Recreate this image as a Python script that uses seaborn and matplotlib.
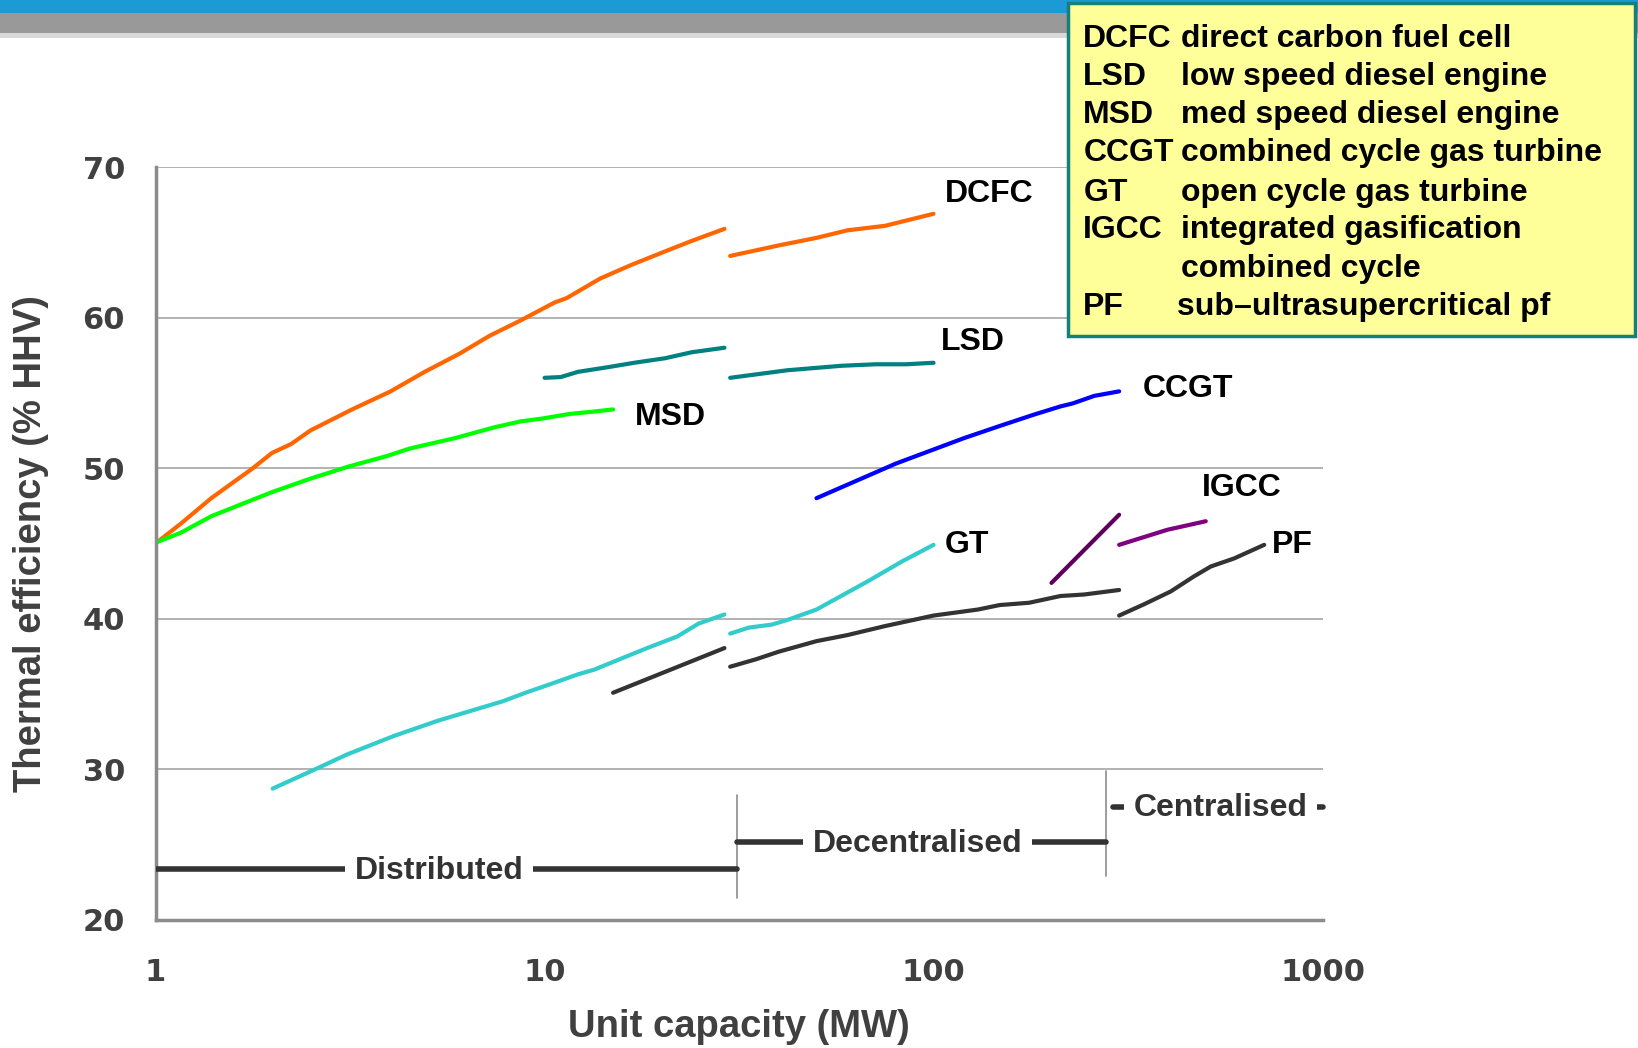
import pandas as pd
import matplotlib
matplotlib.use('Agg')
import matplotlib.pyplot as plt
import seaborn as sns
from matplotlib.patches import Rectangle
from matplotlib.ticker import NullLocator

sns.set_style('white')
plt.rcParams['font.family'] = ['Liberation Sans', 'DejaVu Sans']

# data: unit capacity (MW) vs thermal efficiency (% HHV)
dcfc_a_x = [1, 1.16, 1.39, 1.78, 1.99, 2.23, 2.5, 3.2, 4.02, 4.92, 6.04, 7.23, 8.66, 10.6, 11.4, 13.9, 16.7, 20.4, 23.9, 29]
dcfc_a_y = [45.0, 46.3, 48.0, 50.0, 51.0, 51.6, 52.5, 53.9, 55.1, 56.4, 57.6, 58.8, 59.8, 61.0, 61.3, 62.6, 63.5, 64.4, 65.1, 65.9]
dcfc_b_x = [30, 40, 50, 60, 75, 100]
dcfc_b_y = [64.1, 64.8, 65.3, 65.8, 66.1, 66.9]

msd_x = [1, 1.16, 1.39, 1.7, 1.99, 2.5, 3.13, 3.93, 4.5, 5.9, 7.4, 8.66, 9.9, 11.6, 13.3, 15]
msd_y = [45.05, 45.7, 46.8, 47.7, 48.4, 49.3, 50.1, 50.8, 51.3, 52.0, 52.7, 53.1, 53.3, 53.6, 53.75, 53.9]

lsd_a_x = [10, 11.0, 12.2, 14.5, 17.0, 20.4, 23.9, 29]
lsd_a_y = [56.0, 56.05, 56.4, 56.7, 57.0, 57.3, 57.7, 58.0]
lsd_b_x = [30, 42, 58, 71, 85, 100]
lsd_b_y = [56.0, 56.5, 56.8, 56.9, 56.9, 57.0]

ccgt_x = [50, 80, 120, 148, 181, 212, 228, 259, 300]
ccgt_y = [48.0, 50.3, 52.0, 52.8, 53.55, 54.1, 54.3, 54.8, 55.1]

gt_a_x = [2.0, 2.58, 3.1, 4.1, 5.3, 7.8, 9.0, 10.5, 12.2, 13.4, 15.6, 18.6, 21.9, 24.9, 29]
gt_a_y = [28.7, 30.0, 30.96, 32.2, 33.2, 34.5, 35.1, 35.7, 36.3, 36.6, 37.3, 38.1, 38.8, 39.67, 40.27]
gt_b_x = [30, 33.5, 38.4, 42, 50, 68, 83, 100]
gt_b_y = [39.0, 39.4, 39.6, 39.9, 40.6, 42.5, 43.8, 44.9]

igcc_a_x = [201, 300]
igcc_a_y = [42.37, 46.9]
igcc_b_x = [300, 399, 501]
igcc_b_y = [44.9, 45.9, 46.47]

pf_a_x = [15, 29]
pf_a_y = [35.07, 38.04]
pf_b_x = [30, 35, 40, 50, 60, 75, 100, 130, 148, 176, 212, 244, 300]
pf_b_y = [36.8, 37.3, 37.8, 38.5, 38.9, 39.5, 40.2, 40.6, 40.9, 41.05, 41.5, 41.6, 41.9]
pf_c_x = [300, 347, 407, 467, 516, 593, 708]
pf_c_y = [40.2, 40.94, 41.8, 42.8, 43.46, 44.0, 44.9]

segments = {
    'DCFC a': (dcfc_a_x, dcfc_a_y), 'DCFC b': (dcfc_b_x, dcfc_b_y),
    'MSD': (msd_x, msd_y),
    'LSD a': (lsd_a_x, lsd_a_y), 'LSD b': (lsd_b_x, lsd_b_y),
    'CCGT': (ccgt_x, ccgt_y),
    'GT a': (gt_a_x, gt_a_y), 'GT b': (gt_b_x, gt_b_y),
    'IGCC a': (igcc_a_x, igcc_a_y), 'IGCC b': (igcc_b_x, igcc_b_y),
    'PF a': (pf_a_x, pf_a_y), 'PF b': (pf_b_x, pf_b_y), 'PF c': (pf_c_x, pf_c_y),
}
seg_colors = {
    'DCFC a': '#ff6600', 'DCFC b': '#ff6600', 'MSD': '#00ff00',
    'LSD a': '#008080', 'LSD b': '#008080', 'CCGT': '#0000ff',
    'GT a': '#33cccc', 'GT b': '#33cccc', 'IGCC a': '#5c005c', 'IGCC b': '#800080',
    'PF a': '#333333', 'PF b': '#333333', 'PF c': '#333333',
}

# line labels: name, x (MW), y (%)
label_names = ['DCFC', 'LSD', 'MSD', 'CCGT', 'IGCC', 'GT', 'PF']
label_x = [107, 104.7, 17.1, 345, 491, 107, 743]
label_y = [68.2, 58.4, 53.4, 55.25, 48.65, 44.9, 44.9]

# legend box lines
legend_abbr = ['DCFC', 'LSD', 'MSD', 'CCGT', 'GT', 'IGCC', '', 'PF']
legend_desc = ['direct carbon fuel cell', 'low speed diesel engine', 'med speed diesel engine',
               'combined cycle gas turbine', 'open cycle gas turbine', 'integrated gasification',
               'combined cycle', 'sub\u2013ultrasupercritical pf']

x_ticks = [1, 10, 100, 1000]
y_ticks = [20, 30, 40, 50, 60, 70]

rows = []
for name, (xs, ys) in segments.items():
    for xv, yv in zip(xs, ys):
        rows.append({'segment': name, 'mw': xv, 'eff': yv})
df = pd.DataFrame(rows)

fig = plt.figure(figsize=(16.38, 10.48), dpi=100)
H = 1003.0

# slide header bands
fig.add_artist(Rectangle((0, 1 - 12 / H), 1, 12 / H, transform=fig.transFigure, color='#1b9ad6', lw=0))
fig.add_artist(Rectangle((0, 1 - 32 / H), 1, 20 / H, transform=fig.transFigure, color='#999999', lw=0))
fig.add_artist(Rectangle((0, 1 - 36 / H), 1, 4 / H, transform=fig.transFigure, color='#d9d9d9', lw=0))

ax = fig.add_axes([0.0950, 0.1226, 0.7124, 0.7179])
sns.lineplot(data=df, x='mw', y='eff', hue='segment', palette=seg_colors, estimator=None,
             sort=False, lw=3, legend=False, ax=ax, solid_capstyle='round')

ax.set_xscale('log')
ax.set_xlim(1, 1000)
ax.set_ylim(20, 70)
ax.xaxis.set_minor_locator(NullLocator())
ax.set_xticks(x_ticks)
ax.set_xticklabels([str(t) for t in x_ticks], fontfamily='DejaVu Sans', fontweight='bold',
                   fontsize=22, color='#404040')
ax.set_yticks(y_ticks)
ax.set_yticklabels([str(t) for t in y_ticks], fontfamily='DejaVu Sans', fontweight='bold',
                   fontsize=22, color='#404040')
ax.tick_params(axis='x', direction='out', length=8, width=2, color='#8c8c8c', pad=20)
ax.tick_params(axis='y', direction='out', length=8, width=2, color='#8c8c8c', pad=14)
ax.set_xlabel('')
ax.set_ylabel('')
ax.yaxis.grid(True, color='#a6a6a6', lw=1.2)
ax.xaxis.grid(False)
ax.set_axisbelow(True)
for side in ['top', 'right']:
    ax.spines[side].set_visible(False)
for side in ['left', 'bottom']:
    ax.spines[side].set_color('#8c8c8c')
    ax.spines[side].set_linewidth(2.5)

for name, xv, yv in zip(label_names, label_x, label_y):
    ax.text(xv, yv, name, fontsize=23, fontweight='bold', color='black', ha='left', va='center')

# size class brackets
ax.axvline(31.3, ymin=(21.4 - 20) / 50, ymax=(28.3 - 20) / 50, color='#8c8c8c', lw=1.2)
ax.axvline(278, ymin=(22.9 - 20) / 50, ymax=(29.9 - 20) / 50, color='#8c8c8c', lw=1.2)
bracket_kw = dict(color='#333333', lw=4, solid_capstyle='round', zorder=3)
ax.plot([1, 31.3], [23.33, 23.33], **bracket_kw)
ax.plot([31.3, 278], [25.14, 25.14], **bracket_kw)
ax.plot([290, 1000], [27.5, 27.5], color='#333333', lw=4, zorder=3, clip_on=False)
box = dict(boxstyle='square,pad=0.3', facecolor='white', edgecolor='none')
ax.text(5.35, 23.2, 'Distributed', fontsize=23, fontweight='bold', color='#333333',
        ha='center', va='center', bbox=box, zorder=4)
ax.text(90.8, 25.0, 'Decentralised', fontsize=23, fontweight='bold', color='#333333',
        ha='center', va='center', bbox=box, zorder=4)
ax.text(546, 27.4, 'Centralised', fontsize=23, fontweight='bold', color='#333333',
        ha='center', va='center', bbox=box, zorder=4)

fig.text(0.451, 0.020, 'Unit capacity (MW)', fontsize=27.5, fontweight='bold', color='#404040',
         ha='center', va='center')
fig.text(0.019, 0.4815, 'Thermal efficiency (% HHV)', fontsize=27.5, fontweight='bold', color='#404040',
         ha='center', va='center', rotation=90)

# abbreviation key box
fig.add_artist(Rectangle((0.652, 0.679), 0.346, 0.318, transform=fig.transFigure,
                         facecolor='#ffff99', edgecolor='#14807a', lw=2.5, zorder=5))
base_y = [45, 81, 118, 154, 192, 228, 265, 301]
for abbr, desc, by in zip(legend_abbr, legend_desc, base_y):
    fy = 1 - by / H
    fig.text(0.6614, fy, abbr, fontsize=23, fontweight='bold', color='black', va='baseline', zorder=6)
    dx = 0.7188 if abbr == 'PF' else 0.7213
    fig.text(dx, fy, desc, fontsize=23, fontweight='bold', color='black', va='baseline', zorder=6)

fig.savefig('out.png', dpi=100)
